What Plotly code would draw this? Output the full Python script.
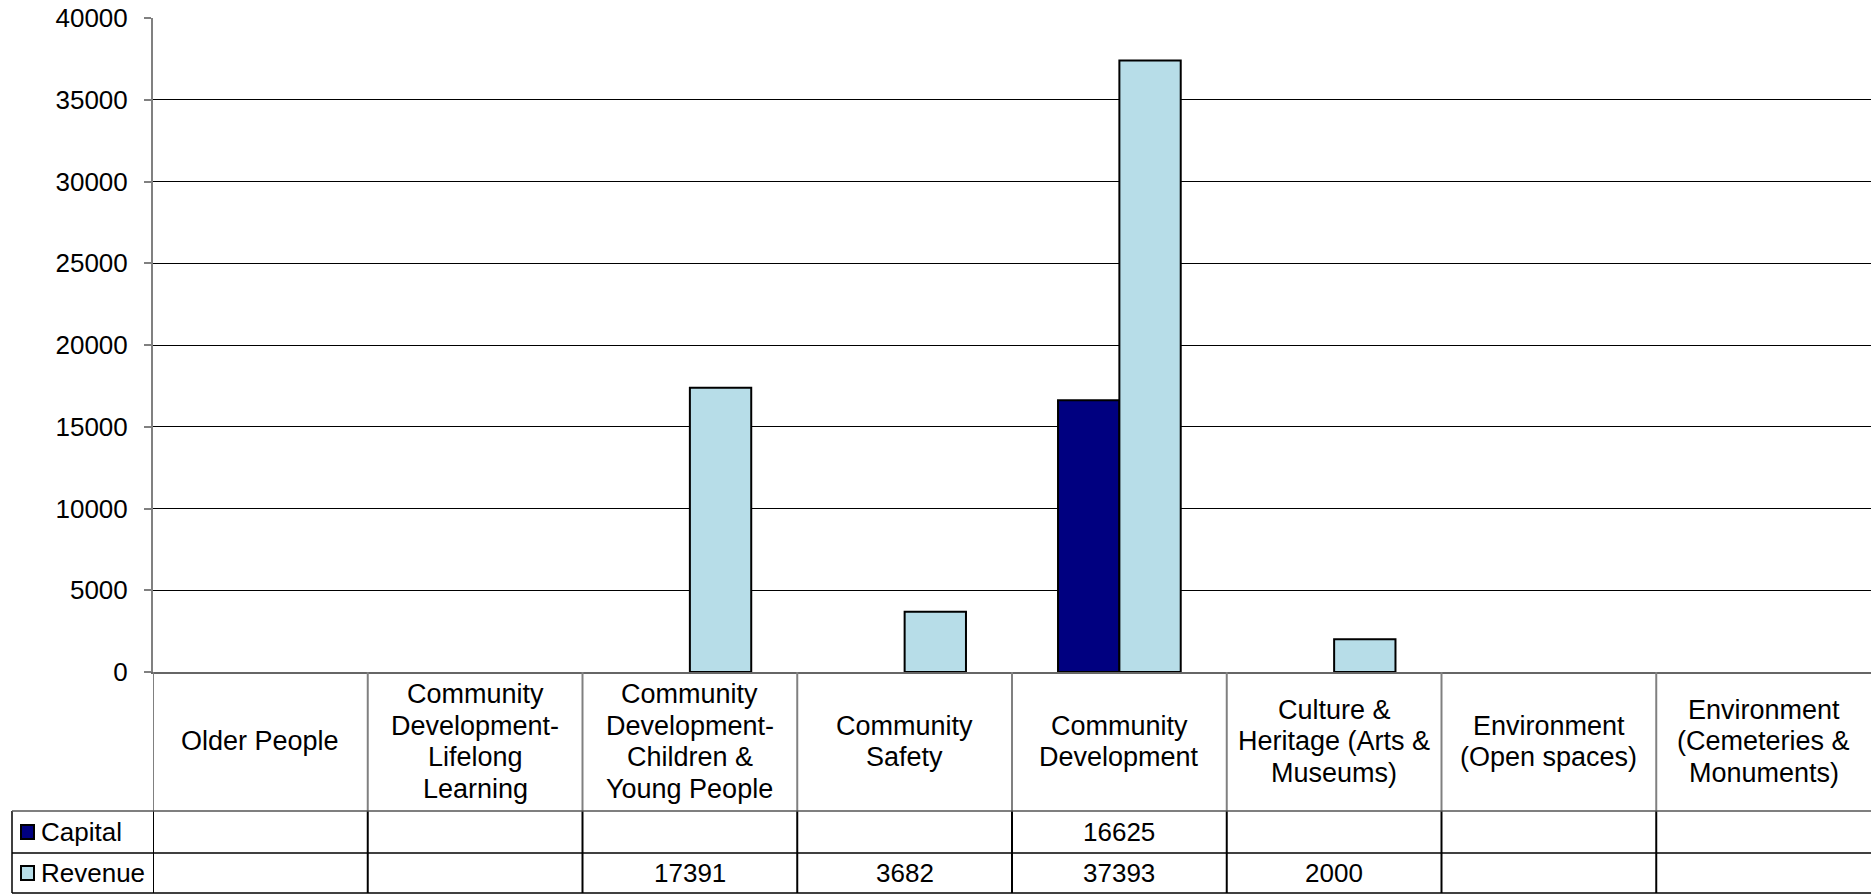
import plotly.graph_objects as go

# ---- data ----
categories = ["Older People", "Community Development-Lifelong Learning",
              "Community Development-Children & Young People", "Community Safety",
              "Community Development", "Culture & Heritage (Arts & Museums)",
              "Environment (Open spaces)", "Environment (Cemeteries & Monuments)"]
category_labels = ["Older People",
                   "Community<br>Development-<br>Lifelong<br>Learning",
                   "Community<br>Development-<br>Children &<br>Young People",
                   "Community<br>Safety",
                   "Community<br>Development",
                   "Culture &<br>Heritage (Arts &<br>Museums)",
                   "Environment<br>(Open spaces)",
                   "Environment<br>(Cemeteries &<br>Monuments)"]
series_names = ["Capital", "Revenue"]
capital = [None, None, None, None, 16625, None, None, None]
revenue = [None, None, 17391, 3682, 37393, 2000, None, None]
y_ticks = [0, 5000, 10000, 15000, 20000, 25000, 30000, 35000, 40000]
y_tick_labels = [str(v) for v in y_ticks]

colors = {"Capital": "#000080", "Revenue": "#B7DDE8"}
FONT = "Arial, Liberation Sans, sans-serif"
FS = 26
FS_CAT = 27
LINE_H = 31.5

W, H = 1871, 894
L, R, T, B = 153, 0, 18, 222
PW, PH = W - L - R, H - T - B
BASE = H - B  # pixel y of zero line


def py(p):
    return (BASE - p) / PH


def px(p):
    return (p - L) / PW


fig = go.Figure()
for name, vals in zip(series_names, [capital, revenue]):
    fig.add_trace(go.Bar(x=list(range(len(categories))), y=vals, name=name,
                         marker=dict(color=colors[name], line=dict(color="black", width=2)),
                         showlegend=False))

shapes = []
annotations = []
n = len(categories)
ROW_HDR_BOT, ROW_CAP_BOT, ROW_REV_BOT = 811, 853, 893
LEG_LEFT = 12

for i in range(n):
    xb = i - 0.5
    shapes.append(dict(type="line", xref="x", yref="paper", x0=xb, x1=xb,
                       y0=py(BASE), y1=py(ROW_HDR_BOT), line=dict(color="#808080", width=2)))
    shapes.append(dict(type="line", xref="x", yref="paper", x0=xb, x1=xb,
                       y0=py(ROW_HDR_BOT), y1=py(ROW_REV_BOT), line=dict(color="black", width=2)))
shapes.append(dict(type="line", xref="paper", yref="paper", x0=px(LEG_LEFT), x1=px(LEG_LEFT),
                   y0=py(ROW_HDR_BOT), y1=py(ROW_REV_BOT), line=dict(color="black", width=1.5)))
for yy, col in [(ROW_HDR_BOT, "#555555"), (ROW_CAP_BOT, "black"), (ROW_REV_BOT, "black")]:
    shapes.append(dict(type="line", xref="paper", yref="paper", x0=px(LEG_LEFT), x1=1,
                       y0=py(yy), y1=py(yy), line=dict(color=col, width=1.5)))

hdr_mid = (BASE + ROW_HDR_BOT) / 2
for i, lab in enumerate(category_labels):
    parts = lab.split("<br>")
    k = len(parts)
    for j, part in enumerate(parts):
        yc = hdr_mid + (j - (k - 1) / 2) * LINE_H
        annotations.append(dict(xref="x", yref="paper", x=i, y=py(yc),
                                text=part, showarrow=False, xanchor="center", yanchor="middle",
                                font=dict(family=FONT, size=FS_CAT, color="black")))

rows = [(series_names[0], capital, (ROW_HDR_BOT + ROW_CAP_BOT) / 2),
        (series_names[1], revenue, (ROW_CAP_BOT + ROW_REV_BOT) / 2)]
for name, vals, yc in rows:
    shapes.append(dict(type="rect", xref="paper", yref="paper",
                       x0=px(21), x1=px(34), y0=py(yc - 7), y1=py(yc + 7),
                       fillcolor=colors[name], line=dict(color="black", width=2)))
    annotations.append(dict(xref="paper", yref="paper", x=px(39), y=py(yc), text=name,
                            showarrow=False, xanchor="left", yanchor="middle",
                            font=dict(family=FONT, size=FS, color="black")))
    for i, v in enumerate(vals):
        if v is not None:
            annotations.append(dict(xref="x", yref="paper", x=i, y=py(yc), text=str(v),
                                    showarrow=False, xanchor="center", yanchor="middle",
                                    font=dict(family=FONT, size=FS, color="black")))

fig.update_layout(
    width=W, height=H,
    margin=dict(l=L, r=R, t=T, b=B, pad=0),
    paper_bgcolor="white", plot_bgcolor="white",
    barmode="group", bargap=1.5 / 3.5, bargroupgap=0,
    font=dict(family=FONT, size=FS, color="black"),
    shapes=shapes, annotations=annotations,
    xaxis=dict(range=[-0.5, n - 0.5], showticklabels=False, showgrid=False, ticks="",
               zeroline=False, showline=True, linecolor="#666666", linewidth=2,
               fixedrange=True),
    yaxis=dict(range=[0, 40000], tickvals=y_ticks, ticktext=y_tick_labels,
               ticks="outside", ticklen=7, ticklabelstandoff=11,
               tickcolor="#808080", tickwidth=1.5, showgrid=True, gridcolor="black",
               gridwidth=1, zeroline=False, showline=True, linecolor="#808080",
               linewidth=2, tickfont=dict(family=FONT, size=FS, color="black"),
               fixedrange=True),
)

fig.write_html("out.html", config={"displayModeBar": False},
               post_script="document.body.style.margin='0';document.body.style.overflow='hidden';")
